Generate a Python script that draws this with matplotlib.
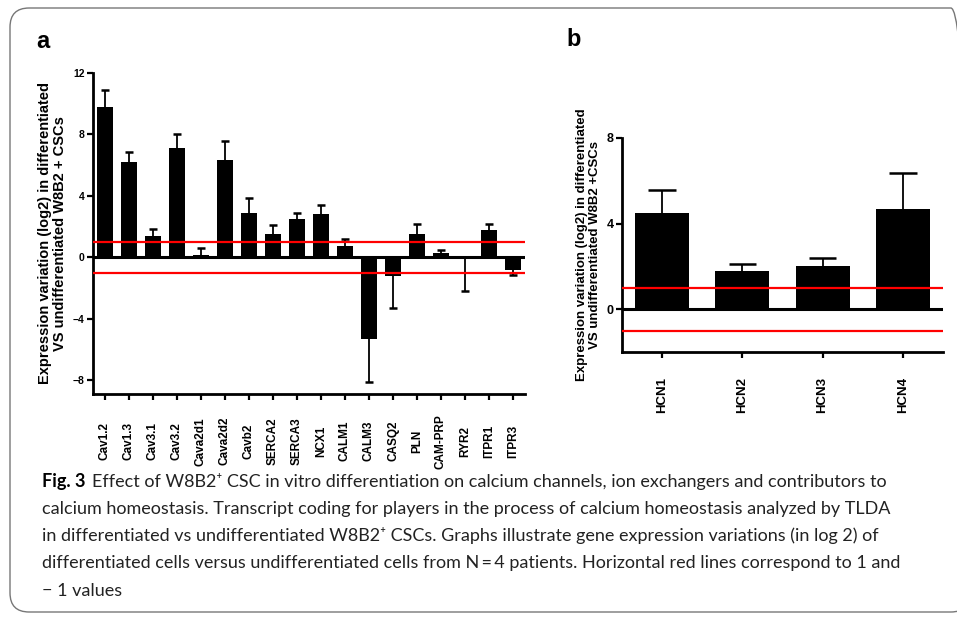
import matplotlib
matplotlib.use("Agg")
import matplotlib.pyplot as plt
from matplotlib.patches import FancyBboxPatch
import numpy as np

plt.rcParams['font.family'] = ['Liberation Sans', 'DejaVu Sans']

W, H = 957, 620

# panel a data
genes_a = ["Cav1.2", "Cav1.3", "Cav3.1", "Cav3.2", "Cava2d1", "Cava2d2", "Cavb2",
           "SERCA2", "SERCA3", "NCX1", "CALM1", "CALM3", "CASQ2", "PLN", "CAM-PRP",
           "RYR2", "ITPR1", "ITPR3"]
vals_a = [9.8, 6.2, 1.37, 7.1, 0.13, 6.35, 2.9, 1.5, 2.5, 2.8, 0.72, -5.3, -1.2,
          1.55, 0.3, -0.05, 1.75, -0.8]
err_a = [1.1, 0.65, 0.45, 0.9, 0.5, 1.25, 0.95, 0.6, 0.4, 0.6, 0.5, 2.8, 2.1,
         0.6, 0.2, 2.15, 0.4, 0.35]

# panel b data
genes_b = ["HCN1", "HCN2", "HCN3", "HCN4"]
vals_b = [4.5, 1.78, 2.0, 4.67]
err_b = [1.05, 0.32, 0.4, 1.68]

ylabel_a = "Expression variation (log2) in differentiated\nVS undifferentiated W8B2 + CSCs"
ylabel_b = "Expression variation (log2) in differentiated\nVS undifferentiated W8B2 +CSCs"


def px_axes(fig, left, right, top, bottom):
    return fig.add_axes([left / W, 1 - bottom / H, (right - left) / W, (bottom - top) / H])


def draw_panel(ax, names, vals, errs, ylim, yticks, tick_fs, xtick_fs, xpad):
    x = np.arange(len(names))
    vals = np.array(vals)
    errs = np.array(errs)
    ax.bar(x, vals, width=0.67, color='black', zorder=2)
    # one-sided error bars, cap only at the far end
    ends = np.where(vals < 0, vals - errs, vals + errs)
    ax.vlines(x, vals, ends, color='black', lw=1.3, zorder=2)
    ax.hlines(ends, x - 0.17, x + 0.17, color='black', lw=1.8, zorder=2)
    ax.axhline(0, color='black', lw=2.2, zorder=3)
    ax.axhline(1, color='red', lw=1.6, zorder=4)
    ax.axhline(-1, color='red', lw=1.6, zorder=4)
    ax.set_xlim(-0.5, len(names) - 0.5)
    ax.set_ylim(*ylim)
    ax.set_yticks(yticks)
    ax.set_xticks(x)
    ax.set_xticklabels(names, rotation=90, fontsize=xtick_fs, fontweight='bold',
                       va='center')
    for lab in ax.get_yticklabels():
        lab.set_fontweight('bold')
        lab.set_fontsize(tick_fs)
    for s in ['top', 'right']:
        ax.spines[s].set_visible(False)
    for s in ['left', 'bottom']:
        ax.spines[s].set_linewidth(2)
    ax.tick_params(direction='out', length=4, width=1.6, pad=2)
    ax.tick_params(axis='x', pad=xpad)


fig = plt.figure(figsize=(W / 100, H / 100), dpi=100)

frame = FancyBboxPatch((10 / W, 8 / H), 960 / W, 604 / H,
                       boxstyle="round,pad=0,rounding_size=0.02",
                       transform=fig.transFigure, fill=False,
                       edgecolor='#777777', lw=1.0, mutation_aspect=W / H)
fig.patches.append(frame)

ax_a = px_axes(fig, 93, 525, 73, 394)
draw_panel(ax_a, genes_a, vals_a, err_a, (-8.9, 12), [-8, -4, 0, 4, 8, 12], 7.5, 8.5, 30)
ax_a.set_ylabel(ylabel_a, fontsize=10.5, fontweight='bold', labelpad=4, linespacing=1.1)

ax_b = px_axes(fig, 622, 943, 138, 352)
draw_panel(ax_b, genes_b, vals_b, err_b, (-2, 8), [0, 4, 8], 9, 9.5, 27)
ax_b.set_ylabel(ylabel_b, fontsize=9.5, fontweight='bold', labelpad=4, linespacing=1.1)

fig.text(36 / W, 1 - 42 / H, "a", fontsize=17, fontweight='bold', va='center')
fig.text(566 / W, 1 - 40 / H, "b", fontsize=17, fontweight='bold', va='center')

# caption
cap_font = ['Lato', 'DejaVu Sans']
cap_fs = 13
lines = [
    "Effect of W8B2\u207a CSC in vitro differentiation on calcium channels, ion exchangers and contributors to",
    "calcium homeostasis. Transcript coding for players in the process of calcium homeostasis analyzed by TLDA",
    "in differentiated vs undifferentiated W8B2\u207a CSCs. Graphs illustrate gene expression variations (in log 2) of",
    "differentiated cells versus undifferentiated cells from N\u2009=\u20094 patients. Horizontal red lines correspond to 1 and",
    "\u2212 1 values",
]
ys = [481, 509, 536, 563, 591]
renderer = fig.canvas.get_renderer()
t = fig.text(42 / W, 1 - ys[0] / H, "Fig. 3", fontsize=cap_fs, fontweight='bold',
             family=cap_font, va='center')
bb = t.get_window_extent(renderer)
fig.text((bb.x1 + 6) / W, 1 - ys[0] / H, lines[0], fontsize=cap_fs, family=cap_font,
         va='center', color='#222222')
for line, y in zip(lines[1:], ys[1:]):
    fig.text(42 / W, 1 - y / H, line, fontsize=cap_fs, family=cap_font, va='center',
             color='#222222')

fig.savefig("out.png", dpi=100)
